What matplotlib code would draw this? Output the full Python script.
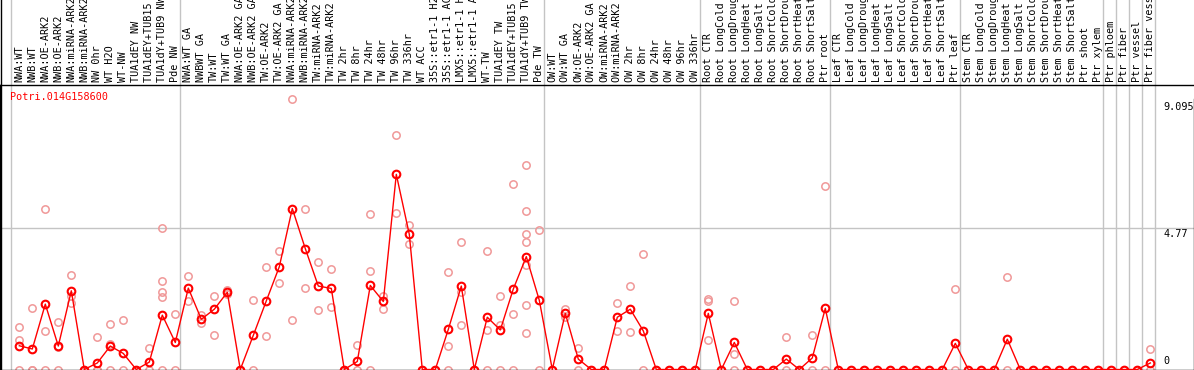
import matplotlib
matplotlib.use('Agg')
import matplotlib.pyplot as plt
import matplotlib.transforms as mtransforms
from matplotlib.lines import Line2D

# sample names (88 columns)
labels = [
    'NWA:WT', 'NWB:WT', 'NWA:OE-ARK2', 'NWB:OE-ARK2', 'NWA:miRNA-ARK2', 'NWB:miRNA-ARK2',
    'NW 0hr', 'WT H2O', 'WT-NW', 'TUA1dEY NW', 'TUA1dEY+TUB15 NW', 'TUA1dY+TUB9 NW', 'Pde NW',
    'NWA:WT GA', 'NWBWT GA', 'TW:WT', 'TW:WT GA', 'NWA:OE-ARK2 GA', 'NWB:OE-ARK2 GA',
    'TW:OE-ARK2', 'TW:OE-ARK2 GA', 'NWA:miRNA-ARK2 GA', 'NWB:miRNA-ARK2 GA', 'TW:miRNA-ARK2',
    'TW:miRNA-ARK2 GA', 'TW 2hr', 'TW 8hr', 'TW 24hr', 'TW 48hr', 'TW 96hr', 'TW 336hr',
    'WT ACC', '35S::etr1-1 H2O', '35S::etr1-1 ACC', 'LMX5::etr1-1 H2O', 'LMX5::etr1-1 ACC',
    'WT-TW', 'TUA1dEY TW', 'TUA1dEY+TUB15 TW', 'TUA1dY+TUB9 TW', 'Pde TW',
    'OW:WT', 'OW:WT GA', 'OW:OE-ARK2', 'OW:OE-ARK2 GA', 'OW:miRNA-ARK2', 'OW:miRNA-ARK2 GA',
    'OW 2hr', 'OW 8hr', 'OW 24hr', 'OW 48hr', 'OW 96hr', 'OW 336hr',
    'Root CTR', 'Root LongCold', 'Root LongDrought', 'Root LongHeat', 'Root LongSalt',
    'Root ShortCold', 'Root ShortDrought', 'Root ShortHeat', 'Root ShortSalt', 'Ptr root',
    'Leaf CTR', 'Leaf LongCold', 'Leaf LongDrought', 'Leaf LongHeat', 'Leaf LongSalt',
    'Leaf ShortCold', 'Leaf ShortDrought', 'Leaf ShortHeat', 'Leaf ShortSalt', 'Ptr leaf',
    'Stem CTR', 'Stem LongCold', 'Stem LongDrought', 'Stem LongHeat', 'Stem LongSalt',
    'Stem ShortCold', 'Stem ShortDrought', 'Stem ShortHeat', 'Stem ShortSalt', 'Ptr shoot',
    'Ptr xylem', 'Ptr phloem', 'Ptr fiber', 'Ptr vessel', 'Ptr fiber vessel',
]

# mean expression per sample
means = [
    0.80, 0.69, 2.20, 0.79, 2.65, 0, 0.22, 0.79, 0.54, 0, 0.25, 1.83, 0.91,
    2.74, 1.69, 2.03, 2.60, 0, 1.15, 2.31, 3.46, 5.42, 4.07, 2.81, 2.73, 0, 0.27,
    2.83, 2.29, 6.57, 4.55, 0, 0, 1.35, 2.81, 0, 1.76, 1.33, 2.71, 3.80, 2.33,
    0, 1.89, 0.35, 0, 0, 1.76, 2.03, 1.30, 0, 0, 0, 0,
    1.89, 0, 0.91, 0, 0, 0, 0.35, 0, 0.39, 2.06,
    0, 0, 0, 0, 0, 0, 0, 0, 0, 0.88,
    0, 0, 0, 1.02, 0, 0, 0, 0, 0, 0, 0, 0, 0, 0, 0.22,
]

# individual replicates per sample
replicates = [
    [1.42, 0.99, 0], [2.06, 0, 0], [5.39, 1.30, 0], [1.60, 0.77, 0], [3.19, 2.48, 2.23],
    [0, 0], [1.08, 0, 0], [1.52, 0.85, 0], [1.67, 0], [0, 0], [0.74, 0],
    [4.77, 2.99, 2.61, 2.44, 0], [1.87, 0],
    [3.15, 2.29], [1.84, 1.58], [2.48, 1.15], [2.68, 2.55], [0, 0], [2.34, 0],
    [3.46, 1.12], [3.99, 2.91], [9.095, 1.67], [5.40, 2.76], [3.61, 2.02], [3.37, 2.09],
    [0, 0], [0.84, 0], [5.22, 3.30, 0], [2.47, 2.04], [7.88, 5.26], [4.86, 4.21],
    [0, 0], [0, 0], [3.28, 0.80, 0], [4.29, 2.60, 1.49], [0, 0], [3.99, 1.33, 0],
    [2.48, 1.49, 0], [6.26, 1.87, 0], [6.87, 5.34, 4.57, 4.29, 3.53, 2.17, 1.23], [4.70, 0],
    [0, 0], [2.04, 1.77], [0.72, 0], [0, 0], [0, 0], [2.23, 1.30], [2.82, 1.26], [3.89, 0],
    [0, 0], [0, 0], [0, 0], [0, 0],
    [2.38, 2.29, 0.99], [0], [2.30, 0.51, 0], [0], [0], [0], [1.09, 0], [0], [1.15, 0], [6.19, 0],
    [0], [0], [0], [0], [0], [0], [0], [0], [0], [2.70, 0],
    [0], [0], [0], [3.10, 0], [0], [0], [0], [0], [0], [0], [0], [0], [0], [0], [0.68, 0],
]

# group boundaries (index of first sample in each group, plus end)
group_starts = [0, 13, 41, 53, 63, 73, 84, 85, 86, 87, 88]

y_max = 9.095
y_mid = 4.77
gene = 'Potri.014G158600'

W, H = 1194, 370
fig = plt.figure(figsize=(W / 100, H / 100), dpi=100)
top_px, bot_px = 85, 369.5
ax = fig.add_axes([0, (H - bot_px) / H, 1, (bot_px - top_px) / H])

x0_px, step_px, unit_px = 19.3, 13.0, 29.7
ax.set_xlim(-x0_px / step_px, (W - x0_px) / step_px)
ax.set_ylim(0, (bot_px - top_px) / unit_px)
ax.set_xticks([])
ax.set_yticks([])

for s in ['left', 'top', 'bottom', 'right']:
    ax.spines[s].set_color('black')
    ax.spines[s].set_linewidth(1)
ax.spines['right'].set_bounds(0, y_max)

mono = 'DejaVu Sans Mono'
fs = 7.3
grey = '#c4c4c4'

ax.axhline(y_mid, color=grey, lw=1, zorder=0)
ext = bot_px / (bot_px - top_px)
for k in group_starts:
    ax.axvline(k - 8 / step_px, ymin=0, ymax=ext, color=grey, lw=1, zorder=0, clip_on=False)

fig.add_artist(Line2D([0.5 / W, 0.5 / W], [0, 1], transform=fig.transFigure, color='black', lw=1))

# replicate points
rx, ry = [], []
for i, reps in enumerate(replicates):
    for v in reps:
        rx.append(i)
        ry.append(v)
ax.plot(rx, ry, ls='none', marker='o', ms=5.3, mfc='none', mec='#f09898', mew=1.1,
        clip_on=False, zorder=2)

# mean line
ax.plot(range(len(means)), means, color='#ff0000', lw=1, marker='o', ms=5.5, mfc='none',
        mec='#ff0000', mew=1.5, clip_on=False, zorder=3)

# sample labels above the plot
trans = mtransforms.blended_transform_factory(ax.transData, ax.transAxes)
for i, lab in enumerate(labels):
    ax.text(i, 1 + 2.5 / (bot_px - top_px), lab, rotation=90, ha='center', va='bottom',
            family=mono, fontsize=fs, transform=trans, clip_on=False)

ax.text(9.7 / W, (bot_px - 97) / (bot_px - top_px), gene, color='#ff0000', family=mono,
        fontsize=fs, va='center', ha='left', transform=ax.transAxes)

ytrans = mtransforms.blended_transform_factory(ax.transAxes, ax.transData)
ax.text(1163 / W, y_max - 0.08, '9.095', family=mono, fontsize=fs, va='top', transform=ytrans)
ax.text(1163 / W, y_mid - 0.05, '4.77', family=mono, fontsize=fs, va='top', transform=ytrans)
ax.text(1163 / W, 0.12, '0', family=mono, fontsize=fs, va='bottom', transform=ytrans)

fig.savefig('out.png', dpi=100)
